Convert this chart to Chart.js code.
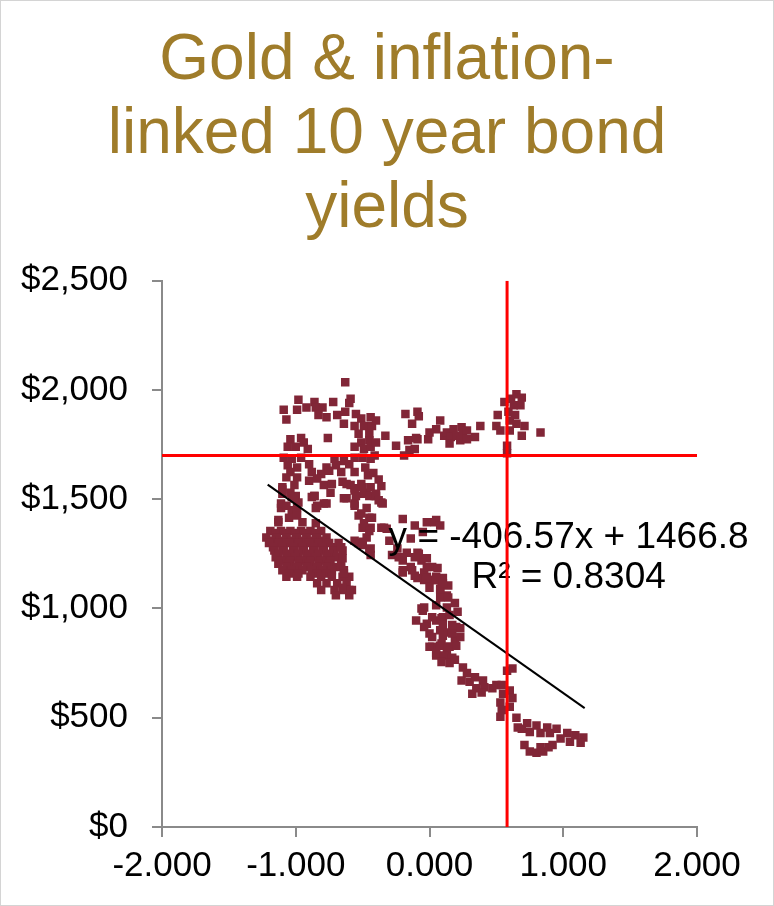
<!DOCTYPE html>
<html>
<head>
<meta charset="utf-8">
<script src="https://cdn.jsdelivr.net/npm/chart.js@4"></script>
<style>
  html, body { margin: 0; padding: 0; background: #fff; }
  #wrap { width: 774px; height: 906px; box-sizing: border-box; border: 1px solid #d4d4d4; position: relative; }
  canvas { display: block; }
</style>
</head>
<body>
<div id="wrap"><canvas id="c"></canvas></div>
<script>
// Gold price vs inflation-linked 10y bond yield

const titleLines = ['Gold & inflation-', 'linked 10 year bond', 'yields'];
const xTicks = [-2, -1, 0, 1, 2];
const yTicks = [0, 500, 1000, 1500, 2000, 2500];

// upper band (2011-2013 highs)
const upperBand = [
    [-0.63,2035],[-0.59,1960],[-0.60,1940],[-0.98,1955],[-0.92,1920],[-0.86,1945],[-0.85,1920],[-0.80,1920],
    [-0.72,1945],[-1.09,1910],[-0.99,1910],[-1.07,1865],[-0.83,1885],[-0.77,1875],[-0.69,1885],[-0.63,1900],
    [-0.55,1890],[-0.51,1870],[-0.44,1875],[-0.64,1845],[-0.56,1835],[-0.49,1835],[-0.43,1835],[-0.53,1800],
    [-0.45,1800],[-0.51,1760],[-0.45,1770],[-0.56,1740],[-0.49,1730],[-0.44,1740],[-1.04,1775],[-0.96,1780],
    [-0.94,1760],[-0.76,1780],[-1.06,1740],[-1.00,1740],[-0.91,1730],[-1.09,1690],[-1.03,1685],[-0.96,1690],
    [-0.71,1685],[-0.64,1675],[-0.56,1690],[-0.50,1690],[-0.44,1685],[-1.06,1655],[-0.99,1645],[-0.90,1660],
    [-0.77,1645],[-0.70,1655],[-0.60,1660],[-0.48,1645],[-1.04,1625],[-0.88,1625],[-0.81,1615],[-0.75,1630],
    [-0.66,1625],[-0.56,1625],[-0.46,1610],[-1.07,1600],[-0.99,1600],[-0.90,1585],[-0.84,1595],[-0.79,1565],
    [-0.73,1570],[-0.65,1580],[-0.59,1565],[-0.51,1570],[-0.44,1555],[-1.01,1565],[-1.10,1545],[-0.74,1530],
    [-0.56,1540],[-0.49,1525],[-0.86,1515],[-0.41,1515],[-1.00,1515],[-0.40,1860],[-0.40,1760],[-0.41,1700],
    [-0.42,1620],[-0.38,1590],[-0.36,1560]
];

// recent period, yields around zero and above
const upperRight = [
    [-0.18,1890],[-0.09,1900],[-0.13,1845],[0.08,1860],[-0.33,1790],[-0.25,1745],[-0.16,1770],[-0.09,1775],
    [-0.01,1775],[0.05,1820],[0.11,1790],[-0.19,1700],[-0.15,1725],[-0.08,1880],[-0.10,1780],[-0.11,1730],
    [0.00,1805],[0.13,1805],[0.18,1820],[0.24,1830],[0.16,1785],[0.20,1790],[0.25,1800],[0.28,1815],
    [0.23,1770],[0.15,1755],[0.28,1775],[0.34,1785],[0.38,1835],[0.50,1835],[0.51,1885],[0.53,1815],
    [0.56,1945],[0.61,1960],[0.65,1980],[0.69,1965],[0.63,1930],[0.68,1930],[0.59,1900],[0.64,1885],
    [0.60,1860],[0.65,1845],[0.71,1835],[0.60,1815],[0.69,1790],[0.83,1805],[0.58,1745],[0.58,1710]
];

// dense cluster around -1.0 / $1,250
const clusterEdge = [
    [-1.10,1555],[-1.03,1510],[-1.11,1460],[-1.03,1450],[-0.98,1485],[-1.13,1405],[-0.88,1510],[-0.85,1460],
    [-0.79,1480],[-1.10,1525],[-1.04,1530],[-1.01,1505],[-1.11,1480],[-1.07,1470],[-0.99,1460],[-1.13,1395],
    [-1.05,1415],[-0.99,1425],[-0.95,1395],[-0.85,1390],[-0.86,1515],[-0.84,1470],[-0.77,1480]
];
const clusterRowY = [1355,1345,1325,1310,1300,1280,1265,1250,1235,1220,1205,1190,1175,1160,1145,1115,1085,1060];
const clusterRowX = [
    [-1.19,-1.11,-1.04,-0.96,-0.89,-0.81],
    [-1.15,-1.07,-1.00,-0.92,-0.85],
    [-1.22,-1.14,-1.07,-0.99,-0.92,-0.84,-0.77],
    [-1.18,-1.10,-1.03,-0.95,-0.88,-0.80],
    [-1.20,-1.13,-1.05,-0.98,-0.90,-0.83,-0.75,-0.68],
    [-1.17,-1.10,-1.02,-0.95,-0.87,-0.80,-0.72],
    [-1.16,-1.09,-1.01,-0.94,-0.86,-0.79,-0.71,-0.65],
    [-1.13,-1.05,-0.98,-0.90,-0.83,-0.75],
    [-1.15,-1.07,-1.00,-0.92,-0.85,-0.77,-0.69],
    [-1.11,-1.04,-0.96,-0.89,-0.81,-0.74],
    [-1.13,-1.05,-0.98,-0.90,-0.83,-0.75,-0.66],
    [-1.07,-0.99,-0.92,-0.84,-0.77,-0.69],
    [-1.10,-1.03,-0.95,-0.88,-0.80,-0.73,-0.64],
    [-1.05,-0.98,-0.84,-0.77],
    [-1.07,-0.99,-0.89,-0.81,-0.73,-0.65,-0.60],
    [-0.84,-0.77,-0.69,-0.62],
    [-0.81,-0.71,-0.64,-0.58],
    [-0.70,-0.60]
];

// the slide down from -0.6 to 0.2
const midSlope = [
    [-0.36,1485],[-0.47,1530],[-0.40,1515],[-0.55,1515],[-0.47,1460],[-0.53,1425],[-0.45,1415],[-0.50,1370],
    [-0.44,1370],[-0.47,1325],[-0.53,1300],[-0.50,1290],[-0.45,1265],[-0.64,1505],[-0.56,1480],[-0.51,1435],
    [-0.49,1390],[-0.36,1370],[-0.56,1310],[-0.44,1245],[-0.62,1570],[-0.56,1550],[-0.50,1555],[-0.45,1515],
    [-0.40,1525],[-0.38,1495],[-0.62,1505],[-0.56,1470],[-0.43,1415],[-0.45,1355],[-0.50,1305],[-0.44,1275],
    [-0.66,1280],[-0.65,1230],[-0.64,1160],[-0.60,1085],[-0.65,1095],[-0.32,1365],[-0.20,1410],[-0.11,1380],
    [-0.02,1395],[0.05,1405],[-0.28,1245],[-0.20,1220],[-0.09,1255],[-0.06,1220],[-0.14,1190],[-0.20,1175],
    [-0.04,1165],[0.02,1190],[0.06,1185],[-0.04,1130],[0.02,1130],[0.09,1120],[0.08,1085],[0.13,1060],
    [-0.06,1000],[-0.10,945],[-0.02,930],[0.05,945],[0.10,960],[0.00,885],[0.08,900],[0.14,890],
    [0.20,915],[0.02,825],[0.09,840],[0.15,825],[0.19,855],[0.05,785],[0.13,795],[-0.35,1480],
    [-0.34,1370],[-0.14,1320],[0.04,1395],[0.08,1380],[-0.05,1350],[-0.23,1235],[-0.17,1255],[-0.11,1235],
    [-0.08,1250],[-0.02,1230],[-0.13,1175],[-0.02,1190],[-0.09,1140],[-0.02,1145],[0.04,1130],[0.10,1140],
    [0.00,1095],[0.08,1090],[0.14,1105],[0.08,1050],[0.14,1050],[-0.04,1005],[0.05,1015],[0.13,1005],
    [0.19,1025],[-0.30,1310],[-0.24,1275]
];

// tail towards positive yields and low gold
const lowerRight = [
    [-0.20,1165],[-0.11,1150],[-0.02,1140],[0.05,1145],[0.10,1115],[-0.05,990],[-0.04,915],[0.02,960],
    [0.09,955],[0.15,970],[0.21,985],[0.10,925],[0.17,925],[0.23,910],[0.02,870],[0.10,875],
    [0.17,885],[0.23,870],[0.00,825],[0.08,830],[0.14,825],[0.20,830],[0.05,795],[0.11,785],
    [0.17,775],[0.09,755],[0.15,750],[0.19,765],[0.25,730],[0.28,705],[0.24,670],[0.30,665],
    [0.34,685],[0.40,670],[0.35,635],[0.41,640],[0.32,610],[0.39,615],[0.47,635],[0.50,650],
    [0.54,650],[0.55,610],[0.53,570],[0.54,535],[0.53,505],[0.60,625],[0.62,590],[0.60,550],
    [0.58,715],[0.62,725],[0.65,500],[0.66,455],[0.73,475],[0.80,465],[0.88,455],[0.95,450],
    [1.03,430],[1.09,420],[1.15,410],[1.13,385],[1.05,390],[0.98,405],[0.90,430],[0.83,430],
    [0.75,435],[0.69,450],[0.71,375],[0.75,345],[0.80,340],[0.85,345],[0.89,365],[0.92,375],
    [0.83,365]
];

// linear trend as drawn, and the two red marker lines
const trendX = [-1.21, 1.16];
const trendY = [1567, 544];
const markX = 0.58;
const markY = 1700;
const eqLines = ['y = -406.57x + 1466.8', 'R\u00B2 = 0.8304'];
const eqAt = [[1.04, 1322], [1.04, 1140]];

const toPts = arr => arr.map(p => ({ x: p[0], y: p[1] }));
const clusterPts = [];
clusterRowY.forEach((y, i) => clusterRowX[i].forEach(x => clusterPts.push({ x, y })));

const allPts = [].concat(toPts(upperBand), toPts(upperRight), toPts(clusterEdge), clusterPts,
    toPts(midSlope), toPts(lowerRight));

// equation text, drawn right after the scatter so lines sit on top
const eqLabel = {
    id: 'eqLabel',
    afterDatasetDraw(chart, args) {
        if (args.index !== 3) return;
        const { ctx, scales } = chart;
        ctx.save();
        ctx.font = '37px "Liberation Sans", Arial, sans-serif';
        ctx.fillStyle = '#000';
        ctx.textAlign = 'center';
        ctx.textBaseline = 'middle';
        eqLines.forEach((t, i) => {
            ctx.fillText(t, scales.x.getPixelForValue(eqAt[i][0]), scales.y.getPixelForValue(eqAt[i][1]));
        });
        ctx.restore();
    }
};

const axisGrey = '#8a8a8a';
const tickFont = { family: '"Liberation Sans", Arial, sans-serif', size: 35 };

new Chart(document.getElementById('c'), {
    type: 'scatter',
    data: {
        datasets: [
            {
                data: [{ x: markX, y: 0 }, { x: markX, y: 2500 }],
                showLine: true, borderColor: '#ff0000', borderWidth: 3, pointRadius: 0
            },
            {
                data: [{ x: -2, y: markY }, { x: 2, y: markY }],
                showLine: true, borderColor: '#ff0000', borderWidth: 3, pointRadius: 0
            },
            {
                data: [{ x: trendX[0], y: trendY[0] }, { x: trendX[1], y: trendY[1] }],
                showLine: true, borderColor: '#000', borderWidth: 2, pointRadius: 0
            },
            {
                data: allPts,
                pointStyle: 'rect',
                pointRadius: 6,
                pointBorderWidth: 0,
                backgroundColor: '#812637',
                borderColor: '#812637'
            }
        ]
    },
    options: {
        responsive: true,
        maintainAspectRatio: false,
        animation: false,
        layout: { padding: 0 },
        plugins: {
            legend: { display: false },
            tooltip: { enabled: false },
            title: {
                display: true,
                text: titleLines,
                color: '#9f7c2a',
                font: { family: '"Liberation Sans", Arial, sans-serif', size: 64, weight: 'normal', lineHeight: 1.16 },
                padding: { top: 23, bottom: 34 }
            }
        },
        scales: {
            x: {
                type: 'linear',
                min: -2, max: 2,
                afterFit: s => { s.height = 78; },
                afterBuildTicks: s => { s.ticks = xTicks.map(v => ({ value: v })); },
                border: { display: true, color: axisGrey, width: 2 },
                grid: { drawOnChartArea: false, drawTicks: true, tickLength: 10, color: axisGrey, lineWidth: 2 },
                ticks: { color: '#000', font: tickFont, padding: 8, maxRotation: 0, callback: v => v.toFixed(3) }
            },
            y: {
                type: 'linear',
                min: 0, max: 2500,
                afterFit: s => { s.width = 161; },
                afterBuildTicks: s => { s.ticks = yTicks.map(v => ({ value: v })); },
                border: { display: true, color: axisGrey, width: 2 },
                grid: { drawOnChartArea: false, drawTicks: true, tickLength: 10, color: axisGrey, lineWidth: 2 },
                ticks: { color: '#000', font: tickFont, padding: 24, callback: v => '$' + v.toLocaleString('en-US') }
            },
            // empty right-hand axis only reserves the margin, so the title stays centred on the page
            spacer: {
                type: 'linear',
                position: 'right',
                min: 0, max: 1,
                afterFit: s => { s.width = 76; },
                border: { display: false },
                grid: { display: false },
                ticks: { display: false }
            }
        }
    },
    plugins: [eqLabel]
});
</script>
</body>
</html>
